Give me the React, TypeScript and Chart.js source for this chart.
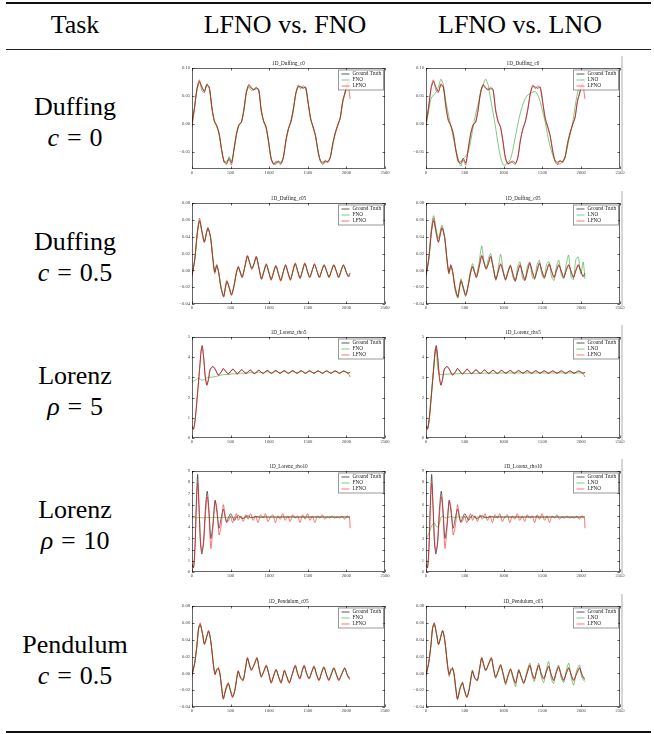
import React, { useEffect, useRef } from 'react';
import { Chart, registerables } from 'chart.js';

Chart.register(...registerables);

const SERIF = '"Liberation Serif", "Times New Roman", serif';

// ---------- shared axis ticks ----------
const xTicks = [0, 500, 1000, 1500, 2000, 2500];
const duffC0Ticks = [-0.05, 0, 0.05, 0.1];
const smallTicks = [-0.04, -0.02, 0, 0.02, 0.04, 0.06, 0.08];
const rho5Ticks = [0, 1, 2, 3, 4, 5];
const rho10Ticks = [0, 1, 2, 3, 4, 5, 6, 7, 8, 9];

// ---------- Duffing c = 0 ----------
const d0X = [0,32,64,96,128,160,192,224,256,288,320,352,384,416,448,480,512,544,576,608,640,672,704,736,768,800,832,864,896,928,960,992,1024,1056,1088,1120,1152,1184,1216,1248,1280,1312,1344,1376,1408,1440,1472,1504,1536,1568,1600,1632,1664,1696,1728,1760,1792,1824,1856,1888,1920,1952,1984,2016,2048];
const d0GT = [0.003,0.030,0.062,0.076,0.066,0.058,0.070,0.066,0.032,0.006,-0.002,-0.018,-0.045,-0.066,-0.070,-0.061,-0.069,-0.045,-0.018,-0.002,0.004,0.025,0.058,0.069,0.064,0.062,0.063,0.062,0.025,0.006,-0.006,-0.030,-0.060,-0.070,-0.069,-0.066,-0.070,-0.060,-0.030,-0.008,0.004,0.025,0.055,0.067,0.066,0.064,0.066,0.040,0.010,-0.004,-0.020,-0.048,-0.065,-0.068,-0.066,-0.067,-0.060,-0.035,-0.015,-0.002,0.012,0.040,0.058,0.072,0.076];
const d0LFNO = [-0.005,0.027,0.064,0.079,0.060,0.056,0.072,0.064,0.030,0.008,-0.004,-0.016,-0.047,-0.068,-0.066,-0.064,-0.073,-0.043,-0.016,0.000,0.003,0.028,0.056,0.071,0.066,0.060,0.066,0.060,0.028,0.004,-0.004,-0.033,-0.062,-0.072,-0.066,-0.069,-0.072,-0.058,-0.028,-0.010,0.006,0.028,0.053,0.070,0.063,0.068,0.064,0.037,0.012,-0.006,-0.022,-0.046,-0.067,-0.072,-0.064,-0.069,-0.058,-0.033,-0.017,0.000,0.010,0.042,0.056,0.074,0.045];
const d0FNO = [0.002,0.029,0.060,0.074,0.067,0.060,0.069,0.064,0.030,0.004,-0.004,-0.020,-0.047,-0.068,-0.072,-0.058,-0.066,-0.047,-0.020,-0.003,0.003,0.023,0.055,0.066,0.060,0.062,0.065,0.060,0.023,0.004,-0.008,-0.032,-0.062,-0.071,-0.072,-0.067,-0.068,-0.058,-0.032,-0.010,0.002,0.023,0.053,0.066,0.067,0.065,0.064,0.038,0.008,-0.006,-0.022,-0.050,-0.066,-0.070,-0.068,-0.066,-0.058,-0.037,-0.017,-0.004,0.010,0.037,0.055,0.066,0.070];
const d0LNO = [0.000,0.022,0.045,0.052,0.056,0.066,0.080,0.070,0.040,0.018,-0.003,-0.025,-0.045,-0.062,-0.075,-0.062,-0.057,-0.050,-0.030,-0.005,0.018,0.036,0.055,0.070,0.080,0.070,0.045,0.020,-0.005,-0.035,-0.058,-0.072,-0.073,-0.068,-0.063,-0.045,-0.022,0.000,0.020,0.035,0.046,0.052,0.055,0.057,0.058,0.052,0.040,0.022,0.004,-0.020,-0.040,-0.055,-0.066,-0.071,-0.071,-0.066,-0.058,-0.040,-0.020,0.000,0.030,0.055,0.072,0.080,0.078];

// ---------- Duffing c = 0.5 ----------
const d5X = [0,35,70,98,130,160,205,240,270,295,320,345,375,410,430,452,480,512,545,575,600,625,650,685,718,745,775,805,833,865,900,930,962,995,1025,1055,1087,1120,1150,1180,1212,1245,1275,1305,1337,1370,1400,1430,1462,1495,1525,1555,1587,1620,1650,1680,1712,1745,1775,1805,1837,1870,1900,1930,1962,1995,2025,2048];
const d5GT = [-0.006,0.012,0.045,0.059,0.046,0.034,0.050,0.040,0.014,-0.002,0.006,-0.002,-0.020,-0.031,-0.022,-0.013,-0.020,-0.029,-0.018,-0.003,0.004,-0.002,-0.008,0.004,0.017,0.010,0.002,0.008,0.016,0.004,-0.010,-0.002,0.007,-0.002,-0.011,-0.003,0.005,-0.004,-0.012,-0.003,0.006,-0.003,-0.011,-0.002,0.008,-0.001,-0.009,-0.001,0.008,-0.001,-0.008,-0.001,0.007,-0.001,-0.008,-0.001,0.006,-0.001,-0.008,-0.001,0.006,-0.001,-0.008,-0.001,0.006,-0.001,-0.007,-0.003];
const d5LFNO = [-0.008,0.013,0.047,0.062,0.044,0.033,0.051,0.038,0.013,-0.004,0.007,-0.003,-0.021,-0.032,-0.021,-0.012,-0.021,-0.030,-0.017,-0.002,0.005,-0.003,-0.009,0.005,0.018,0.009,0.001,0.009,0.017,0.003,-0.011,-0.001,0.008,-0.003,-0.012,-0.002,0.006,-0.005,-0.013,-0.002,0.007,-0.004,-0.012,-0.001,0.009,-0.002,-0.010,0.000,0.009,-0.002,-0.009,0.000,0.008,-0.002,-0.009,0.000,0.007,-0.002,-0.009,0.000,0.007,-0.002,-0.009,0.000,0.007,-0.002,-0.008,-0.006];
const d5FNO = [-0.005,0.012,0.044,0.058,0.046,0.035,0.049,0.040,0.015,-0.002,0.005,-0.002,-0.019,-0.030,-0.023,-0.014,-0.019,-0.028,-0.019,-0.004,0.003,-0.002,-0.007,0.004,0.016,0.010,0.003,0.008,0.015,0.004,-0.009,-0.002,0.006,-0.002,-0.010,-0.003,0.005,-0.004,-0.011,-0.003,0.006,-0.003,-0.010,-0.002,0.007,-0.001,-0.009,-0.001,0.008,-0.001,-0.008,-0.001,0.007,-0.001,-0.008,-0.001,0.006,-0.001,-0.008,-0.001,0.006,-0.001,-0.008,-0.001,0.006,-0.001,-0.007,-0.004];
const d5LNO = [-0.004,0.015,0.050,0.065,0.050,0.038,0.054,0.040,0.012,-0.004,0.004,-0.004,-0.024,-0.033,-0.020,-0.010,-0.022,-0.031,-0.016,0.000,0.008,-0.001,-0.006,0.010,0.029,0.012,0.003,0.014,0.020,0.005,-0.012,0.002,0.019,0.000,-0.010,-0.002,0.006,-0.008,-0.013,0.004,0.010,-0.010,-0.012,0.004,0.010,-0.008,-0.011,0.006,0.012,-0.006,-0.010,0.008,0.010,-0.008,-0.012,0.004,0.012,-0.006,-0.010,0.006,0.018,-0.008,-0.011,0.012,0.016,-0.004,0.010,-0.010];

// ---------- Lorenz rho = 5 ----------
const l5X = [0,20,40,60,80,100,118,132,150,171,192,214,235,269,299,342,385,406,470,530,587,643,699,754,809,864,919,974,1029,1084,1139,1194,1249,1304,1359,1414,1469,1524,1579,1634,1689,1744,1799,1854,1909,1964,2019,2048];
const l5GT = [0.60,0.45,0.90,1.70,2.60,3.50,4.30,4.58,4.05,3.05,2.63,2.90,3.38,3.55,3.42,3.13,3.30,3.43,3.18,3.40,3.19,3.37,3.20,3.36,3.20,3.35,3.20,3.34,3.21,3.34,3.21,3.33,3.21,3.33,3.21,3.33,3.21,3.32,3.21,3.32,3.21,3.32,3.21,3.32,3.21,3.32,3.21,3.25];
const l5LFNO = [0.55,0.42,0.85,1.65,2.55,3.45,4.35,4.52,4.00,3.10,2.60,2.95,3.40,3.52,3.40,3.10,3.32,3.45,3.16,3.42,3.17,3.39,3.19,3.37,3.18,3.36,3.19,3.35,3.20,3.35,3.20,3.34,3.20,3.34,3.20,3.33,3.20,3.33,3.20,3.33,3.20,3.33,3.20,3.32,3.20,3.31,3.22,3.02];
const l5FNO = [2.82,2.82,2.85,2.90,2.95,2.93,2.88,2.86,2.88,2.92,2.97,3.00,3.00,3.02,3.04,3.08,3.12,3.14,3.14,3.18,3.17,3.22,3.19,3.25,3.20,3.27,3.21,3.29,3.21,3.30,3.21,3.30,3.21,3.31,3.21,3.31,3.21,3.31,3.21,3.31,3.21,3.31,3.21,3.31,3.21,3.31,3.21,3.26];
const l5LNO = [0.60,0.50,0.95,1.80,2.70,3.55,4.20,4.40,3.50,3.15,3.14,3.15,3.16,3.16,3.17,3.17,3.18,3.18,3.19,3.19,3.20,3.20,3.20,3.21,3.21,3.21,3.21,3.22,3.22,3.22,3.22,3.22,3.22,3.22,3.22,3.22,3.22,3.22,3.22,3.22,3.22,3.22,3.22,3.22,3.22,3.22,3.22,3.22];

// ---------- Lorenz rho = 10 ----------
const l10X = [0,20,40,55,73,90,110,128,150,175,197,220,244,270,299,325,350,380,406,430,449,475,500,525,550,575,600,632,664,696,728,760,792,824,856,888,920,952,984,1016,1048,1080,1112,1144,1176,1208,1240,1272,1304,1336,1368,1400,1432,1464,1496,1528,1560,1592,1624,1656,1688,1720,1752,1784,1816,1848,1880,1912,1944,1976,2008,2040,2048];
const l10GT = [0.70,0.40,2.50,6.00,8.70,6.00,2.50,1.60,2.80,5.80,7.20,5.50,3.00,4.20,6.40,5.20,3.90,4.90,5.60,4.90,4.45,4.90,5.20,4.90,4.60,4.90,5.05,4.85,4.75,4.95,5.00,4.85,4.85,4.95,4.92,4.88,4.90,4.91,4.89,4.90,4.91,4.89,4.90,4.90,4.91,4.89,4.90,4.90,4.91,4.89,4.90,4.90,4.91,4.89,4.90,4.90,4.90,4.90,4.91,4.89,4.90,4.90,4.90,4.91,4.89,4.90,4.90,4.90,4.90,4.90,4.90,4.90,4.90];
const l10LFNO = [0.60,0.35,2.20,5.50,7.90,6.00,2.80,1.90,2.50,5.20,6.70,5.00,2.10,3.80,6.30,5.60,3.30,4.20,6.00,5.00,4.40,4.60,5.00,4.40,4.80,5.20,4.60,5.00,4.50,5.10,4.70,5.20,4.60,5.00,4.40,5.10,4.80,5.20,4.50,4.90,5.10,4.40,5.00,4.70,5.20,4.60,5.00,4.50,5.10,4.80,5.00,4.40,5.10,4.70,5.20,4.60,5.00,4.40,5.00,4.80,5.10,4.70,4.90,4.80,5.00,4.80,4.90,4.80,5.00,4.70,5.00,4.80,3.90];
const l10FNO = [4.84,4.84,4.83,4.83,4.84,4.85,4.84,4.83,4.84,4.85,4.86,4.85,4.84,4.85,4.86,4.86,4.85,4.86,4.87,4.86,4.86,4.87,4.87,4.86,4.87,4.88,4.87,4.88,4.88,4.87,4.88,4.88,4.89,4.88,4.88,4.89,4.88,4.89,4.89,4.88,4.89,4.89,4.88,4.89,4.89,4.90,4.89,4.89,4.90,4.89,4.89,4.90,4.89,4.90,4.90,4.89,4.90,4.90,4.89,4.90,4.90,4.90,4.89,4.90,4.90,4.90,4.89,4.90,4.90,4.90,4.90,4.90,4.90];
const l10LNO = [3.00,3.20,3.50,3.80,4.10,4.30,4.35,4.10,4.00,4.40,4.90,4.95,4.85,4.80,4.90,4.95,4.88,4.86,4.90,4.92,4.90,4.88,4.90,4.91,4.90,4.89,4.90,4.90,4.90,4.90,4.91,4.90,4.89,4.90,4.90,4.90,4.91,4.90,4.90,4.89,4.90,4.90,4.90,4.91,4.90,4.90,4.90,4.89,4.90,4.90,4.90,4.90,4.91,4.90,4.90,4.90,4.89,4.90,4.90,4.90,4.90,4.90,4.91,4.90,4.90,4.90,4.90,4.89,4.90,4.90,4.90,4.90,4.90];

// ---------- Pendulum c = 0.5 ----------
const pX = [0,35,64,85,107,137,162,214,244,278,299,320,342,363,385,406,440,470,491,526,556,598,628,662,690,718,745,769,805,842,870,897,930,962,994,1026,1058,1090,1122,1154,1176,1197,1229,1261,1300,1338,1368,1397,1425,1453,1485,1517,1549,1581,1613,1645,1677,1709,1741,1773,1805,1838,1870,1902,1940,1979,2005,2030,2048];
const pGT = [-0.002,0.012,0.033,0.053,0.058,0.047,0.035,0.050,0.038,0.010,-0.001,0.004,0.006,-0.001,-0.018,-0.030,-0.018,-0.012,-0.018,-0.028,-0.020,0.002,-0.005,-0.008,0.004,0.018,0.010,0.004,0.010,0.018,0.006,-0.004,0.002,0.009,0.000,-0.011,-0.003,0.004,-0.004,-0.011,-0.004,0.003,-0.004,-0.011,-0.001,0.009,0.000,-0.006,0.002,0.009,0.000,-0.006,0.001,0.008,-0.001,-0.008,0.000,0.007,-0.001,-0.008,-0.001,0.006,-0.001,-0.008,-0.001,0.006,0.000,-0.005,-0.006];
const pLFNO = [-0.004,0.013,0.035,0.054,0.060,0.045,0.034,0.051,0.037,0.009,-0.002,0.005,0.007,-0.002,-0.019,-0.031,-0.017,-0.011,-0.019,-0.029,-0.019,0.003,-0.006,-0.009,0.005,0.019,0.009,0.003,0.011,0.019,0.005,-0.005,0.003,0.010,-0.001,-0.012,-0.002,0.005,-0.005,-0.012,-0.003,0.004,-0.005,-0.012,0.000,0.010,-0.001,-0.007,0.003,0.010,-0.001,-0.007,0.002,0.009,-0.002,-0.009,0.001,0.008,-0.002,-0.009,0.000,0.007,-0.002,-0.009,0.000,0.007,-0.001,-0.006,-0.008];
const pFNO = [-0.001,0.012,0.032,0.052,0.057,0.047,0.036,0.049,0.038,0.011,0.000,0.004,0.005,-0.001,-0.017,-0.028,-0.020,-0.013,-0.017,-0.027,-0.020,0.003,-0.004,-0.007,0.004,0.017,0.010,0.005,0.010,0.017,0.006,-0.003,0.002,0.008,0.000,-0.010,-0.003,0.004,-0.004,-0.010,-0.004,0.003,-0.004,-0.010,-0.001,0.008,0.000,-0.006,0.002,0.008,0.000,-0.006,0.001,0.007,-0.001,-0.008,0.000,0.007,-0.001,-0.007,-0.001,0.006,-0.001,-0.007,-0.001,0.006,0.000,-0.005,-0.005];
const pLNO = [-0.002,0.013,0.034,0.055,0.060,0.046,0.034,0.051,0.038,0.008,-0.004,0.003,0.005,-0.003,-0.020,-0.031,-0.017,-0.010,-0.019,-0.028,-0.018,0.004,-0.006,-0.008,0.006,0.018,0.010,0.003,0.011,0.017,0.005,-0.006,0.003,0.011,-0.002,-0.014,-0.002,0.006,-0.006,-0.016,-0.002,0.005,-0.006,-0.012,0.002,0.012,-0.003,-0.010,0.004,0.012,-0.004,-0.011,0.004,0.014,-0.006,-0.012,0.002,0.010,-0.005,-0.011,0.002,0.012,-0.004,-0.014,0.003,0.010,-0.004,-0.008,-0.010];

// ---------- table text ----------
const headers = ['Task', 'LFNO vs. FNO', 'LFNO vs. LNO'];
const taskNames = ['Duffing', 'Duffing', 'Lorenz', 'Lorenz', 'Pendulum'];
const taskSymbols = ['c', 'c', 'ρ', 'ρ', 'c'];
const taskValues = ['0', '0.5', '5', '10', '0.5'];
const plotTitles = ['1D_Duffing_c0', '1D_Duffing_c05', '1D_Lorenz_rho5', '1D_Lorenz_rho10', '1D_Pendulum_c05'];

type Task = {
  title: string;
  x: number[];
  gt: number[];
  lfno: number[];
  fno: number[];
  lno: number[];
  yMin: number;
  yMax: number;
  yTicks: number[];
  dec: number;
};

const tasks: Task[] = [
  { title: plotTitles[0], x: d0X, gt: d0GT, lfno: d0LFNO, fno: d0FNO, lno: d0LNO, yMin: -0.08, yMax: 0.1, yTicks: duffC0Ticks, dec: 2 },
  { title: plotTitles[1], x: d5X, gt: d5GT, lfno: d5LFNO, fno: d5FNO, lno: d5LNO, yMin: -0.04, yMax: 0.08, yTicks: smallTicks, dec: 2 },
  { title: plotTitles[2], x: l5X, gt: l5GT, lfno: l5LFNO, fno: l5FNO, lno: l5LNO, yMin: 0, yMax: 5, yTicks: rho5Ticks, dec: 0 },
  { title: plotTitles[3], x: l10X, gt: l10GT, lfno: l10LFNO, fno: l10FNO, lno: l10LNO, yMin: 0, yMax: 9, yTicks: rho10Ticks, dec: 0 },
  { title: plotTitles[4], x: pX, gt: pGT, lfno: pLFNO, fno: pFNO, lno: pLNO, yMin: -0.04, yMax: 0.08, yTicks: smallTicks, dec: 2 },
];

// ---------- layout ----------
const ROW_TOP = [68, 203, 337, 471, 606];
const PLOT_H = 101;
const COL_LEFT = [192, 426];
const COL_W = [193, 194];
const PAD_L = 24, PAD_R = 24, PAD_T = 12, PAD_B = 9;

const GT_COLOR = 'rgba(0,0,0,0.65)';
const GREEN = 'rgba(0,150,0,0.5)';
const RED = 'rgba(255,0,0,0.55)';

const decorPlugin = {
  id: 'decor',
  afterDatasetsDraw(chart: any, _args: any, opts: any) {
    const { ctx, chartArea: a, scales } = chart;
    ctx.save();
    ctx.strokeStyle = 'rgba(0,0,0,0.6)';
    ctx.lineWidth = 1;
    ctx.strokeRect(a.left + 0.5, a.top + 0.5, a.width - 1, a.height - 1);
    ctx.beginPath();
    for (const t of scales.x.ticks) {
      const p = Math.round(scales.x.getPixelForValue(t.value)) + 0.5;
      ctx.moveTo(p, a.bottom); ctx.lineTo(p, a.bottom - 2.5);
      ctx.moveTo(p, a.top); ctx.lineTo(p, a.top + 2.5);
    }
    for (const t of scales.y.ticks) {
      const p = Math.round(scales.y.getPixelForValue(t.value)) + 0.5;
      ctx.moveTo(a.left, p); ctx.lineTo(a.left + 2.5, p);
      ctx.moveTo(a.right, p); ctx.lineTo(a.right - 2.5, p);
    }
    ctx.stroke();

    // title
    ctx.fillStyle = '#222';
    ctx.font = `5.2px ${SERIF}`;
    ctx.textAlign = 'center';
    ctx.textBaseline = 'middle';
    ctx.fillText(opts.title, (a.left + a.right) / 2, a.top - 4.5);

    // legend
    const w = 45, h = 20;
    const bx = a.right - 1.5 - w, by = a.top + 2;
    ctx.fillStyle = 'rgba(255,255,255,0.85)';
    ctx.fillRect(bx, by, w, h);
    ctx.strokeStyle = 'rgba(0,0,0,0.5)';
    ctx.lineWidth = 0.8;
    ctx.strokeRect(bx, by, w, h);
    ctx.textAlign = 'left';
    chart.data.datasets.forEach((ds: any, i: number) => {
      const y = by + 4 + i * 6;
      ctx.strokeStyle = ds.borderColor;
      ctx.lineWidth = 1;
      ctx.beginPath();
      ctx.moveTo(bx + 3, y); ctx.lineTo(bx + 11, y);
      ctx.stroke();
      ctx.fillStyle = '#222';
      ctx.fillText(ds.label, bx + 14, y);
    });
    ctx.restore();
  },
};

function fmt(v: number, dec: number) {
  const s = Math.abs(v) < 1e-9 ? (0).toFixed(dec) : v.toFixed(dec);
  return s.replace('-', '\u2212');
}

function MiniChart({ task, variant, left, top, width }: { task: Task; variant: 'FNO' | 'LNO'; left: number; top: number; width: number }) {
  const ref = useRef<HTMLCanvasElement>(null);
  const cw = PAD_L + width + PAD_R;
  const ch = PAD_T + PLOT_H + PAD_B;
  useEffect(() => {
    if (!ref.current) return;
    const other = variant === 'FNO' ? task.fno : task.lno;
    const mk = (ys: number[]) => task.x.map((x, i) => ({ x, y: ys[i] }));
    const tickFont = { family: SERIF, size: 4.6 };
    const chart = new Chart(ref.current, {
      type: 'line',
      data: {
        datasets: [
          { label: 'Ground Truth', data: mk(task.gt), borderColor: GT_COLOR, borderWidth: 0.9, order: 3 },
          { label: variant, data: mk(other), borderColor: GREEN, borderWidth: 1, order: 2 },
          { label: 'LFNO', data: mk(task.lfno), borderColor: RED, borderWidth: 1, order: 1 },
        ],
      } as any,
      options: {
        responsive: false,
        animation: false,
        devicePixelRatio: 1,
        layout: { padding: { top: PAD_T, right: PAD_R, left: 0, bottom: 0 } },
        elements: { point: { radius: 0 }, line: { tension: 0.25 } },
        plugins: {
          legend: { display: false },
          title: { display: false },
          tooltip: { enabled: false },
          decor: { title: task.title },
        } as any,
        scales: {
          x: {
            type: 'linear',
            min: 0,
            max: 2500,
            afterBuildTicks: (s: any) => { s.ticks = xTicks.map((v) => ({ value: v })); },
            afterFit: (s: any) => { s.height = PAD_B; },
            grid: { display: false, drawTicks: false },
            border: { display: false },
            ticks: { font: tickFont, color: '#444', padding: 1.5, maxRotation: 0, autoSkip: false, callback: (v: any) => String(v) },
          },
          y: {
            type: 'linear',
            min: task.yMin,
            max: task.yMax,
            afterBuildTicks: (s: any) => { s.ticks = task.yTicks.map((v) => ({ value: v })); },
            afterFit: (s: any) => { s.width = PAD_L; },
            grid: { display: false, drawTicks: false },
            border: { display: false },
            ticks: { font: tickFont, color: '#444', padding: 2, autoSkip: false, callback: (v: any) => fmt(Number(v), task.dec) },
          },
        },
      } as any,
      plugins: [decorPlugin],
    });
    return () => chart.destroy();
  }, [task, variant]);
  return (
    <canvas
      ref={ref}
      width={cw}
      height={ch}
      style={{ position: 'absolute', left: left - PAD_L, top: top - PAD_T, width: cw, height: ch, display: 'block' }}
    />
  );
}

const HEADER_CENTERS = [75, 285, 520];

export default function App() {
  const textBase: React.CSSProperties = {
    position: 'absolute',
    fontFamily: SERIF,
    fontSize: 26,
    lineHeight: '30px',
    whiteSpace: 'nowrap',
    textAlign: 'center',
    color: '#000',
  };
  return (
    <div style={{ position: 'absolute', left: 0, top: 0, width: 654, height: 734, background: '#fff', overflow: 'hidden' }}>
      {/* rules */}
      <div style={{ position: 'absolute', left: 6, top: 2, width: 645, height: 2, background: '#111' }} />
      <div style={{ position: 'absolute', left: 6, top: 49, width: 645, height: 1, background: '#222' }} />
      <div style={{ position: 'absolute', left: 6, top: 731, width: 645, height: 2, background: '#111' }} />

      {headers.map((h, i) => (
        <div key={h} style={{ ...textBase, left: HEADER_CENTERS[i] - 120, width: 240, top: 10 }}>{h}</div>
      ))}

      {tasks.map((t, r) => {
        const center = ROW_TOP[r] + PLOT_H / 2;
        return (
          <React.Fragment key={r}>
            <div style={{ ...textBase, left: 0, width: 150, top: center - 3 - 23.8 }}>{taskNames[r]}</div>
            <div style={{ ...textBase, left: 0, width: 150, top: center + 28.5 - 23.8 }}>
              <i>{taskSymbols[r]}</i>
              <span style={{ margin: '0 0.3em' }}>=</span>
              {taskValues[r]}
            </div>
            <MiniChart task={t} variant="FNO" left={COL_LEFT[0]} top={ROW_TOP[r]} width={COL_W[0]} />
            <MiniChart task={t} variant="LNO" left={COL_LEFT[1]} top={ROW_TOP[r]} width={COL_W[1]} />
            <div style={{ position: 'absolute', left: 621, top: ROW_TOP[r] - 12, width: 2, height: PLOT_H + 16, background: '#d6d6d6' }} />
          </React.Fragment>
        );
      })}
    </div>
  );
}
